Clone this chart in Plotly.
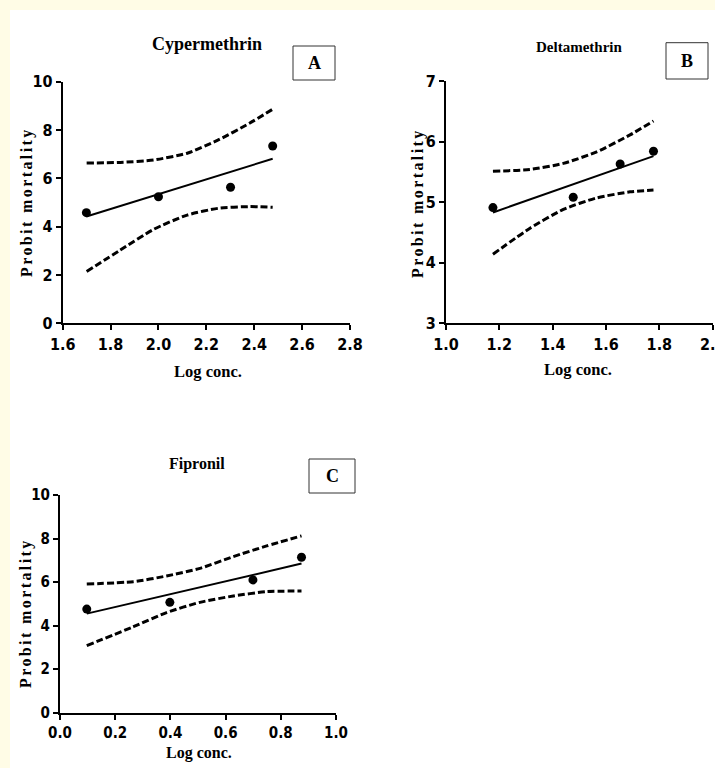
import plotly.graph_objects as go

W, H = 715, 768

# ---------------- data ----------------
# Panel A: Cypermethrin
a_x = [1.699, 2.0, 2.301, 2.477]
a_y = [4.58, 5.24, 5.63, 7.34]
a_fit_x = [1.699, 2.477]
a_fit_y = [4.42, 6.81]
a_ci_x = [1.70, 1.84, 1.98, 2.12, 2.25, 2.38, 2.477]
a_ci_up = [6.63, 6.66, 6.76, 7.04, 7.59, 8.28, 8.86]
a_ci_lo = [2.14, 3.03, 3.89, 4.48, 4.76, 4.83, 4.80]

# Panel B: Deltamethrin
b_x = [1.176, 1.477, 1.653, 1.778]
b_y = [4.91, 5.08, 5.63, 5.84]
b_fit_x = [1.176, 1.778]
b_fit_y = [4.83, 5.76]
b_ci_x = [1.176, 1.315, 1.44, 1.565, 1.69, 1.778]
b_ci_up = [5.51, 5.54, 5.64, 5.83, 6.11, 6.34]
b_ci_lo = [4.14, 4.57, 4.88, 5.07, 5.17, 5.20]

# Panel C: Fipronil
c_x = [0.097, 0.398, 0.699, 0.875]
c_y = [4.76, 5.07, 6.10, 7.14]
c_fit_x = [0.097, 0.875]
c_fit_y = [4.55, 6.85]
c_ci_x = [0.097, 0.266, 0.386, 0.507, 0.628, 0.749, 0.875]
c_ci_up = [5.91, 6.02, 6.28, 6.63, 7.17, 7.66, 8.12]
c_ci_lo = [3.08, 3.95, 4.60, 5.07, 5.36, 5.56, 5.59]

titles = ["Cypermethrin", "Deltamethrin", "Fipronil"]
letters = ["A", "B", "C"]
x_title = "Log conc."
y_title = "Probit mortality"

a_xticks = [1.6, 1.8, 2.0, 2.2, 2.4, 2.6, 2.8]
b_xticks = [1.0, 1.2, 1.4, 1.6, 1.8, 2.0]
c_xticks = [0.0, 0.2, 0.4, 0.6, 0.8, 1.0]
a_yticks = [0, 2, 4, 6, 8, 10]
b_yticks = [3, 4, 5, 6, 7]
c_yticks = [0, 2, 4, 6, 8, 10]

# ---------------- helpers ----------------
def fx(p):
    return p / W

def fy(p):
    return 1 - p / H

SERIF = "Liberation Serif, Times New Roman, serif"
NARROW = "Liberation Sans Narrow, Arial Narrow, DejaVu Sans Condensed, sans-serif"

fig = go.Figure()

panels = [
    (a_x, a_y, a_fit_x, a_fit_y, a_ci_x, a_ci_up, a_ci_lo, "x", "y"),
    (b_x, b_y, b_fit_x, b_fit_y, b_ci_x, b_ci_up, b_ci_lo, "x2", "y2"),
    (c_x, c_y, c_fit_x, c_fit_y, c_ci_x, c_ci_up, c_ci_lo, "x3", "y3"),
]
for px_, py_, fxs, fys, cx, cu, cl, xa, ya in panels:
    for band in (cu, cl):
        fig.add_trace(go.Scatter(x=cx, y=band, mode="lines", xaxis=xa, yaxis=ya,
                                 line=dict(color="black", width=3, dash="7px,3px", shape="spline", smoothing=0.6),
                                 showlegend=False, hoverinfo="skip"))
    fig.add_trace(go.Scatter(x=fxs, y=fys, mode="lines", xaxis=xa, yaxis=ya,
                             line=dict(color="black", width=2), showlegend=False))
    fig.add_trace(go.Scatter(x=px_, y=py_, mode="markers", xaxis=xa, yaxis=ya,
                             marker=dict(color="black", size=9, symbol="circle"), showlegend=False))

def axis_common(size):
    return dict(showline=True, linecolor="black", linewidth=2, ticks="outside", ticklen=5,
                tickwidth=2, tickcolor="black", showgrid=False, zeroline=False, automargin=False,
                ticklabeloverflow="allow",
                tickfont=dict(family=NARROW, size=size, color="black", weight="bold"))

layout = dict(
    width=W, height=H, autosize=False,
    margin=dict(l=0, r=0, t=0, b=0, pad=0),
    paper_bgcolor="#FFFCE6", plot_bgcolor="white",
    showlegend=False,
)
layout["xaxis"] = dict(domain=[fx(62.7), fx(350)], range=[1.6, 2.8], tickvals=a_xticks,
                       tickformat=".1f", anchor="y", **axis_common(16))
layout["yaxis"] = dict(domain=[fy(323.3), fy(81.7)], range=[0, 10], tickvals=a_yticks,
                       anchor="x", **axis_common(16))
layout["xaxis2"] = dict(domain=[fx(446), fx(712.7)], range=[1.0, 2.0], tickvals=b_xticks,
                        tickformat=".1f", anchor="y2", **axis_common(16))
layout["yaxis2"] = dict(domain=[fy(323.3), fy(81)], range=[3, 7], tickvals=b_yticks,
                        anchor="x2", **axis_common(16))
layout["xaxis3"] = dict(domain=[fx(60), fx(336)], range=[0.0, 1.0], tickvals=c_xticks,
                        tickformat=".1f", anchor="y3", **axis_common(15))
layout["yaxis3"] = dict(domain=[fy(712.7), fy(495)], range=[0, 10], tickvals=c_yticks,
                        anchor="x3", **axis_common(15))
fig.update_layout(**layout)

# white page area inside cream border
fig.add_shape(type="rect", xref="paper", yref="paper", x0=fx(10), x1=1.01, y0=-0.01, y1=fy(10),
              fillcolor="white", line=dict(width=0), layer="below")

def ann(text, x, y, size, angle=0):
    fig.add_annotation(text=text, x=fx(x), y=fy(y), xref="paper", yref="paper",
                       xanchor="center", yanchor="middle", showarrow=False, textangle=angle,
                       font=dict(family=SERIF, size=size, color="black", weight="bold"))

# panel titles
ann(titles[0], 207, 44, 18)
ann(titles[1], 579, 47, 15)
ann(titles[2], 197, 464, 16)

# x titles
ann(x_title, 207.5, 371, 16.5)
ann(x_title, 578, 370, 16.5)
ann(x_title, 199.5, 753, 16)

# y titles (letter-spaced)
yt = '<span style="letter-spacing:2.4px">' + y_title + '</span>'
ann(yt, 27, 202, 16, -90)
ann(yt, 418, 203, 16, -90)
ann(yt, 26, 613, 16, -90)

# letter boxes
boxes = [(293, 335, 46, 80), (666, 708, 42.7, 79), (309, 355, 459, 493)]
for letter, (x0, x1, y0, y1) in zip(letters, boxes):
    fig.add_shape(type="rect", xref="paper", yref="paper", x0=fx(x0), x1=fx(x1), y0=fy(y1), y1=fy(y0),
                  line=dict(color="#333333", width=1), fillcolor="white", layer="above")
    ann(letter, (x0 + x1) / 2, (y0 + y1) / 2, 18)

fig.write_html("out.html", config={"displayModeBar": False},
               post_script="document.body.style.margin='0';document.body.style.overflow='hidden';")
